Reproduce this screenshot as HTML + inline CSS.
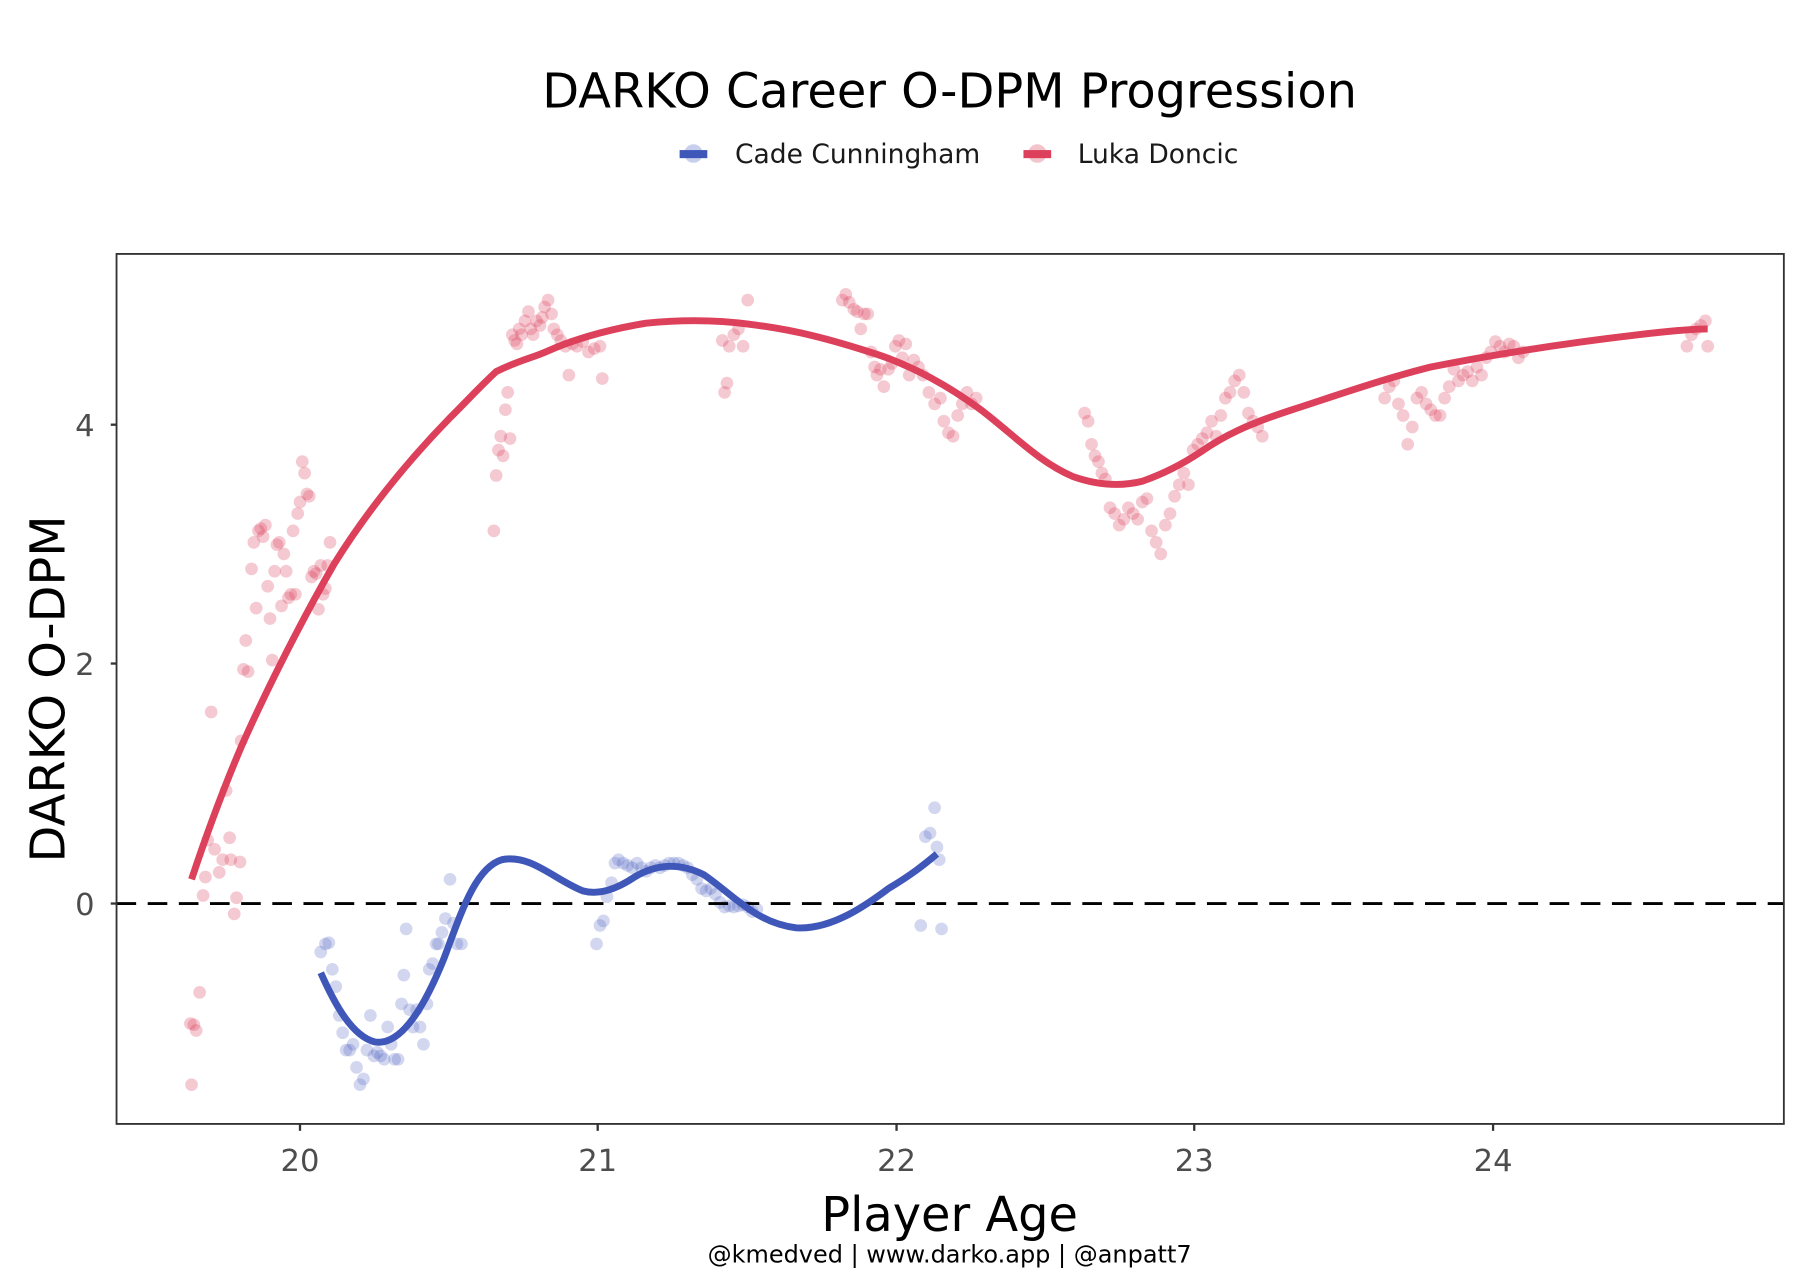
<!DOCTYPE html>
<html><head><meta charset="utf-8">
<style>
html,body{margin:0;padding:0;background:#fff;}
svg{display:block;}
text{font-family:"DejaVu Sans","Liberation Sans",sans-serif;}
</style></head>
<body>
<svg id="s" width="1800" height="1274" viewBox="0 0 1560 1104" xmlns="http://www.w3.org/2000/svg">
<rect width="1560" height="1104" fill="#fff"/>
<text x="823" y="93" font-size="41.5" text-anchor="middle" fill="#000">DARKO Career O-DPM Progression</text>
<circle cx="601" cy="133" r="8" fill="#4a5fbf" opacity="0.3"/>
<rect x="589" y="130" width="24" height="7" fill="#3f57b8"/>
<text x="637" y="141" font-size="23" fill="#1a1a1a">Cade Cunningham</text>
<circle cx="899" cy="133" r="8" fill="#dc3c5a" opacity="0.3"/>
<rect x="887" y="130" width="24" height="7" fill="#dc405a"/>
<text x="934" y="141" font-size="23" fill="#1a1a1a">Luka Doncic</text>

<g id="pts"></g>

<line x1="101" y1="783" x2="1546" y2="783" stroke="#000" stroke-width="2.5" stroke-dasharray="17,10"/>

<path fill="none" stroke="#dc405a" stroke-width="6" stroke-linejoin="round" stroke-linecap="butt"
d="M166,762 C180,720 195,680 210,645 C230,600 260,540 290,488 C320,440 355,398 390,362 C405,347 418,333 430,322 C450,312 462,310 475,304 C500,293 530,285 560,280 C590,277 620,277 650,281 C690,286 720,294 760,307 C790,317 820,333 850,355 C880,378 900,400 930,413 C950,420 970,422 990,417 C1010,410 1025,402 1040,392 C1060,378 1080,368 1120,355 C1160,342 1200,328 1240,318 C1300,306 1360,297 1420,290 C1445,287 1465,285 1480,285"/>
<path fill="none" stroke="#3f57b8" stroke-width="6" stroke-linejoin="round"
d="M278,843 C290,870 305,898 325,903 C345,906 365,880 385,830 C400,790 412,752 435,745 C460,740 480,762 505,772 C520,776 535,770 550,760 C570,748 590,748 610,758 C635,775 655,800 690,804 C720,806 750,785 770,770 C790,758 800,750 812,740"/>

<rect x="101" y="220" width="1445" height="754" fill="none" stroke="#333" stroke-width="1.6"/>

<g stroke="#333" stroke-width="2">
<line x1="96" y1="368" x2="101" y2="368"/><line x1="96" y1="575" x2="101" y2="575"/><line x1="96" y1="783" x2="101" y2="783"/>
<line x1="260" y1="974" x2="260" y2="980"/><line x1="518" y1="974" x2="518" y2="980"/><line x1="777" y1="974" x2="777" y2="980"/><line x1="1035" y1="974" x2="1035" y2="980"/><line x1="1294" y1="974" x2="1294" y2="980"/>
</g>
<g font-size="26.5" fill="#4d4d4d">
<text x="82" y="378" text-anchor="end">4</text>
<text x="82" y="585" text-anchor="end">2</text>
<text x="82" y="793" text-anchor="end">0</text>
<text x="260" y="1015" text-anchor="middle">20</text>
<text x="518" y="1015" text-anchor="middle">21</text>
<text x="777" y="1015" text-anchor="middle">22</text>
<text x="1035" y="1015" text-anchor="middle">23</text>
<text x="1294" y="1015" text-anchor="middle">24</text>
</g>
<text x="823" y="1067" font-size="41.5" text-anchor="middle" fill="#000">Player Age</text>
<text transform="translate(56,597) rotate(-90)" font-size="41.5" text-anchor="middle" fill="#000">DARKO O-DPM</text>
<text x="823" y="1094" font-size="20.8" text-anchor="middle" fill="#000">@kmedved | www.darko.app | @anpatt7</text>
</svg>
<script>
var red=[[166,940],[165,887],[170,893],[173,860],[168,888],[176,776],[178,760],[180,728],[183,617],[186,736],[190,756],[193,745],[196,685],[199,726],[200,745],[203,792],[205,778],[208,747],[209,642],[211,580],[213,555],[215,582],[218,493],[220,470],[222,527],[224,460],[226,458],[228,465],[230,455],[232,508],[234,536],[236,572],[238,495],[240,472],[242,470],[244,525],[246,480],[248,495],[250,518],[252,515],[254,460],[256,515],[258,445],[260,435],[262,400],[264,410],[266,428],[268,430],[270,500],[272,495],[274,497],[276,528],[278,490],[280,515],[282,510],[284,490],[286,470],
[428,460],[430,412],[432,390],[434,378],[436,395],[438,355],[440,340],[442,380],[444,290],[446,295],[448,298],[450,285],[452,290],[455,278],[458,270],[460,285],[462,290],[465,278],[468,282],[470,275],[472,266],[475,260],[478,272],[480,285],[483,290],[486,295],[490,300],[493,325],[496,298],[500,300],[505,296],[510,305],[515,302],[520,300],[522,328],
[626,295],[628,340],[630,332],[632,300],[636,290],[640,285],[644,300],[648,260],
[730,260],[733,255],[736,262],[740,268],[743,270],[746,285],[749,272],[752,272],[755,305],[758,318],[760,325],[763,320],[766,335],[770,320],[773,315],[776,300],[779,295],[782,310],[785,298],[788,325],[792,312],[796,318],[800,325],[805,340],[810,350],[815,345],[818,365],[822,375],[826,378],[830,360],[834,350],[838,340],[842,350],[846,345],
[940,358],[943,365],[946,385],[949,395],[952,400],[955,410],[958,415],[962,440],[966,445],[970,455],[974,450],[978,440],[982,445],[986,450],[990,435],[994,432],[998,460],[1002,470],[1006,480],[1010,455],[1014,445],[1018,430],[1022,420],[1026,410],[1030,420],[1034,390],[1038,385],[1042,380],[1046,375],[1050,365],[1054,378],[1058,360],[1062,345],[1066,340],[1070,330],[1074,325],[1078,340],[1082,358],[1086,365],[1090,370],[1094,378],
[1200,345],[1204,335],[1208,330],[1212,350],[1216,360],[1220,385],[1224,370],[1228,345],[1232,340],[1236,350],[1240,355],[1244,360],[1248,360],[1252,345],[1256,335],[1260,320],[1264,330],[1268,325],[1272,322],[1276,330],[1280,318],[1284,325],[1288,310],[1292,305],[1296,296],[1300,300],[1304,305],[1308,298],[1312,300],[1316,310],[1320,305],
[1462,300],[1466,290],[1470,285],[1474,282],[1478,278],[1480,300]];
var blue=[[278,825],[282,818],[285,817],[288,840],[291,855],[294,880],[297,895],[300,910],[303,910],[306,905],[309,925],[312,940],[315,935],[318,910],[321,880],[324,915],[327,912],[330,915],[333,918],[336,890],[339,905],[342,918],[345,918],[348,870],[350,845],[352,805],[355,875],[358,890],[361,875],[364,890],[367,905],[370,870],[372,840],[375,835],[378,818],[380,818],[383,808],[386,796],[390,762],[393,800],[396,818],[400,818],[517,818],[520,802],[523,798],[526,777],[530,765],[533,748],[536,745],[540,748],[544,750],[548,752],[552,748],[556,752],[560,755],[564,752],[568,750],[572,752],[576,750],[580,748],[584,748],[588,748],[592,750],[596,752],[600,758],[604,762],[608,770],[612,772],[616,770],[620,775],[624,782],[628,786],[632,785],[636,786],[640,785],[644,784],[648,786],[652,790],[656,788],[798,802],[802,725],[806,722],[810,700],[812,734],[814,745],[816,805]];
var g=document.getElementById('pts'),h='';
red.forEach(function(p){h+='<circle cx="'+p[0]+'" cy="'+p[1]+'" r="5.5" fill="#dc3c5a" fill-opacity="0.28"/>';});
blue.forEach(function(p){h+='<circle cx="'+p[0]+'" cy="'+p[1]+'" r="5.5" fill="#4a5fbf" fill-opacity="0.25"/>';});
g.innerHTML=h;
</script>
</body></html>
